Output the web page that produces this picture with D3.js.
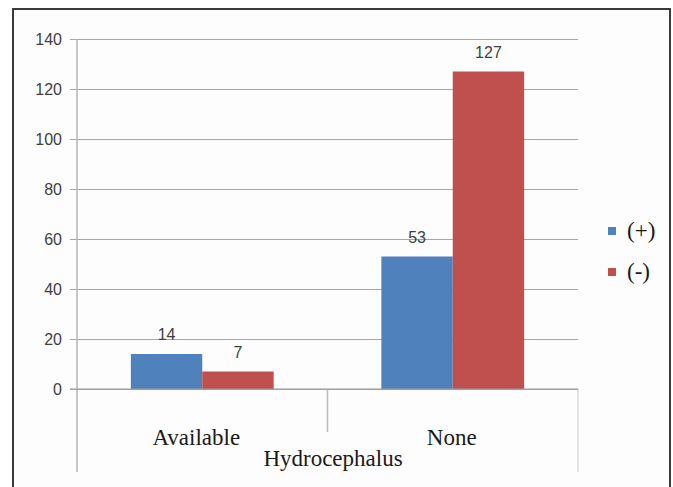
<!DOCTYPE html>
<html>
<head>
<meta charset="utf-8">
<script src="https://cdn.jsdelivr.net/npm/d3@7"></script>
<style>
  html, body { margin: 0; padding: 0; background: #ffffff; }
  svg { display: block; }
</style>
</head>
<body>
<svg id="chart" width="673" height="487"></svg>
<script>
// Hydrocephalus counts by group
const categories = ["Available", "None"];
const seriesNames = ["(+)", "(-)"];
const seriesColors = ["#4F81BD", "#C0504D"];
const plusValues = [14, 53];
const minusValues = [7, 127];
const yTicks = [0, 20, 40, 60, 80, 100, 120, 140];
const axisTitle = "Hydrocephalus";

const svg = d3.select("#chart");

// chart frame
svg.append("rect")
  .attr("x", 13).attr("y", 9)
  .attr("width", 657).attr("height", 490)
  .attr("fill", "#fdfdfd")
  .attr("stroke", "#3a3a3a").attr("stroke-width", 2);

const plotLeft = 77, plotRight = 578, plotTop = 39, plotBottom = 389;

const y = d3.scaleLinear().domain([0, 140]).range([plotBottom, plotTop]);
const x0 = d3.scaleBand().domain(categories).range([plotLeft, plotRight]).paddingInner(0).paddingOuter(0);
const groupWidth = x0.bandwidth() * 0.57;
const x1 = d3.scaleBand().domain(seriesNames).range([0, groupWidth]).padding(0);

const gridColor = "#a6a6a6";
const sans = "'Liberation Sans', Arial, sans-serif";
const serif = "'Liberation Serif', 'Times New Roman', serif";

// horizontal gridlines with tick marks
const yAxis = d3.axisLeft(y).tickValues(yTicks).tickSize(-(plotRight - plotLeft)).tickPadding(15);
const gy = svg.append("g").attr("transform", `translate(${plotLeft},0)`).call(yAxis);
gy.select(".domain").remove();
gy.selectAll(".tick line")
  .attr("x1", -7)
  .attr("stroke", gridColor).attr("stroke-width", 1);
gy.selectAll(".tick text")
  .attr("fill", "#404040")
  .style("font-family", sans)
  .style("font-size", "16px");

// vertical axis line and category dividers
svg.append("line")
  .attr("x1", plotLeft).attr("x2", plotLeft).attr("y1", plotTop).attr("y2", 472)
  .attr("stroke", "#b5b5b5").attr("stroke-width", 1.5);
svg.append("line")
  .attr("x1", plotRight).attr("x2", plotRight).attr("y1", plotBottom).attr("y2", 472)
  .attr("stroke", "#c8c8c8").attr("stroke-width", 1);
svg.append("line")
  .attr("x1", x0("None")).attr("x2", x0("None")).attr("y1", plotBottom).attr("y2", 432)
  .attr("stroke", "#bdbdbd").attr("stroke-width", 1.5);

// bars
const rows = categories.map((c, i) => ({ category: c, values: [plusValues[i], minusValues[i]] }));
const groups = svg.append("g").selectAll("g").data(rows).join("g")
  .attr("transform", d => `translate(${x0(d.category) + (x0.bandwidth() - groupWidth) / 2},0)`);

groups.selectAll("rect").data(d => d.values.map((v, j) => ({ v, s: seriesNames[j], j })))
  .join("rect")
  .attr("x", d => x1(d.s))
  .attr("y", d => y(d.v))
  .attr("width", x1.bandwidth())
  .attr("height", d => y(0) - y(d.v))
  .attr("fill", d => seriesColors[d.j]);

groups.selectAll("text").data(d => d.values.map((v, j) => ({ v, s: seriesNames[j], j })))
  .join("text")
  .attr("x", d => x1(d.s) + x1.bandwidth() / 2)
  .attr("y", d => y(d.v) - 14)
  .attr("text-anchor", "middle")
  .attr("fill", "#404040")
  .style("font-family", sans)
  .style("font-size", "16px")
  .text(d => d.v);

// baseline
svg.append("line")
  .attr("x1", plotLeft - 7).attr("x2", plotRight).attr("y1", y(0)).attr("y2", y(0))
  .attr("stroke", "#9a9a9a").attr("stroke-width", 1);

// category labels
svg.append("g").selectAll("text").data(categories).join("text")
  .attr("x", (d, i) => x0(d) + x0.bandwidth() / 2 - (i === 0 ? 6 : 1))
  .attr("y", 445)
  .attr("text-anchor", "middle")
  .attr("fill", "#1a1a1a")
  .style("font-family", serif)
  .style("font-size", "23px")
  .text(d => d);

svg.append("text")
  .attr("x", 333)
  .attr("y", 466)
  .attr("text-anchor", "middle")
  .attr("fill", "#1a1a1a")
  .style("font-family", serif)
  .style("font-size", "23px")
  .text(axisTitle);

// legend
const legend = svg.append("g").selectAll("g").data(seriesNames).join("g")
  .attr("transform", (d, i) => `translate(608,${227 + i * 41})`);
legend.append("rect")
  .attr("width", 8).attr("height", 8)
  .attr("fill", (d, i) => seriesColors[i]);
legend.append("text")
  .attr("x", 19).attr("y", 11)
  .attr("fill", "#1a1a1a")
  .style("font-family", serif)
  .style("font-size", "23px")
  .text(d => d);
</script>
</body>
</html>
